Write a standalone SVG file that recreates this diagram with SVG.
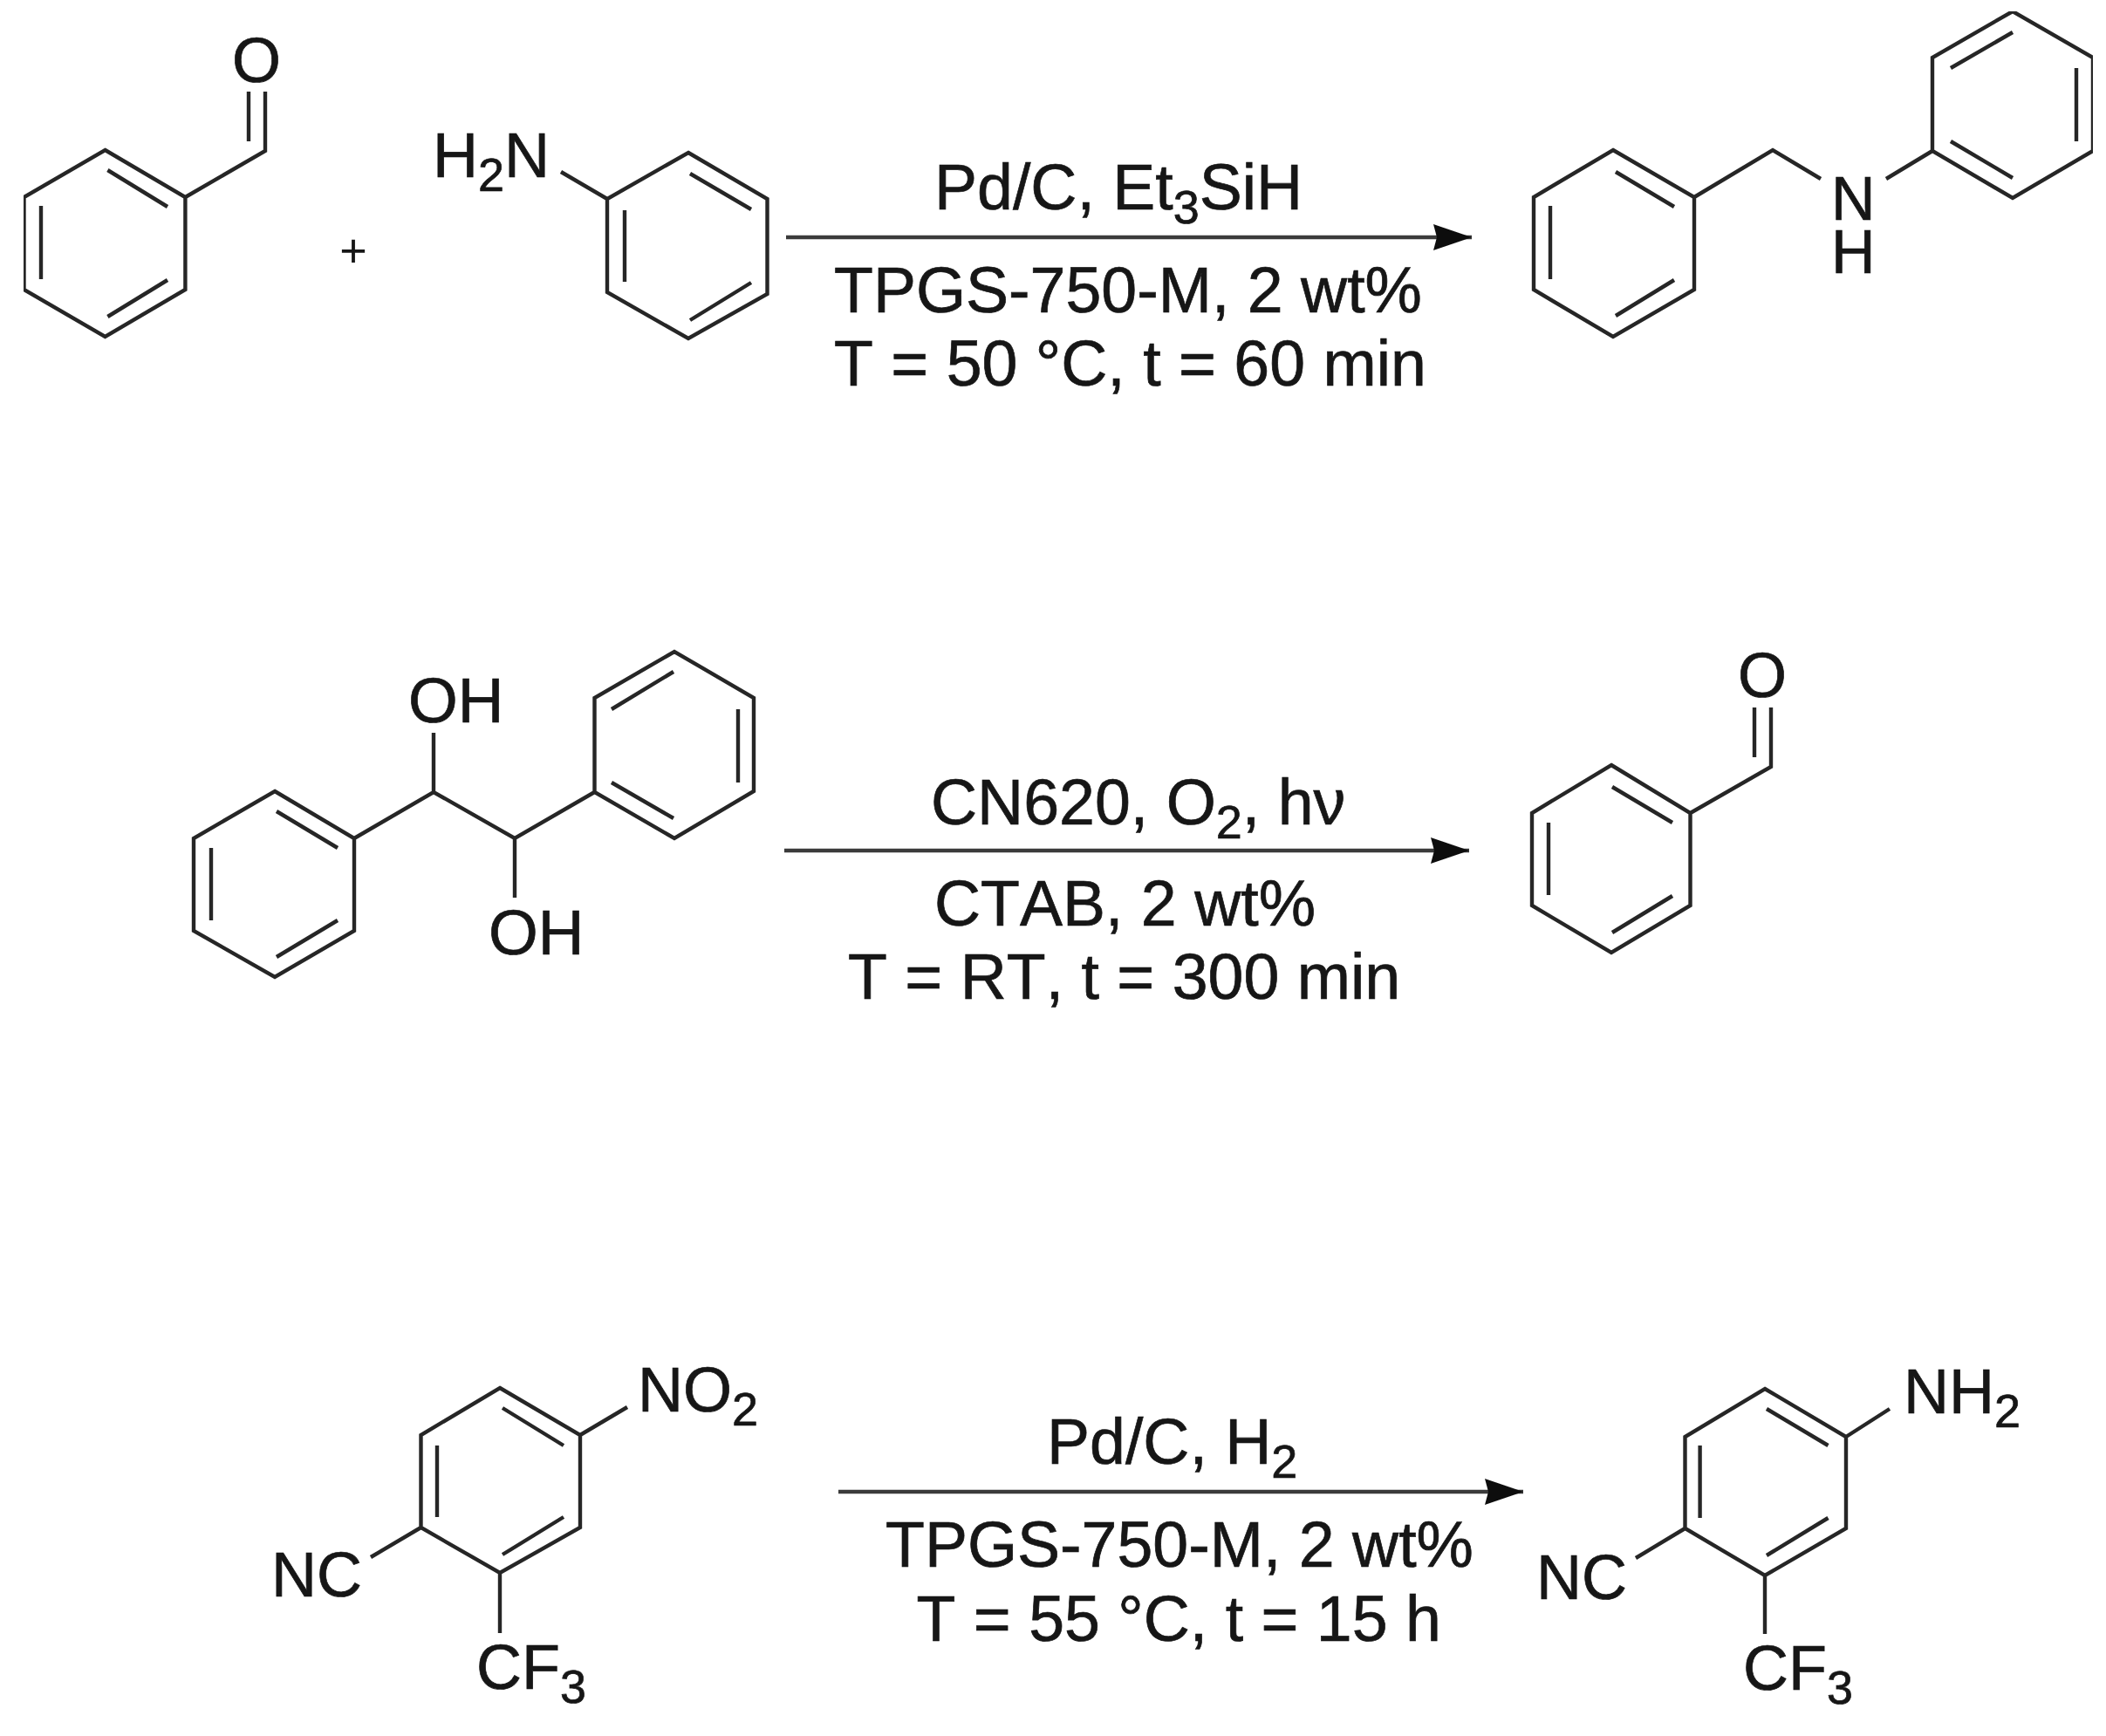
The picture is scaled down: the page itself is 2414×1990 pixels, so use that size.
<svg xmlns="http://www.w3.org/2000/svg" width="2414" height="1990" viewBox="0 0 2414 1990">
<style>
.b{fill:none;stroke:#262626;stroke-width:4.4;stroke-linejoin:miter;stroke-linecap:butt}
.t,.l{font-family:"Liberation Sans",Arial,sans-serif;font-kerning:none;fill:#151515;stroke:#151515;stroke-width:.7}
.t{font-size:73.5px}
.l{font-size:72px}
.s{font-size:54px}
.a{stroke:#3a3a3a;stroke-width:4.5;fill:none}
</style>
<defs>
<marker id="arr" markerUnits="userSpaceOnUse" markerWidth="46" markerHeight="32" refX="44" refY="15" orient="auto"><path d="M0 0L44 15L0 30L4 15Z" fill="#111"/></marker>
<filter id="soft" x="0" y="0" width="100%" height="100%"><feGaussianBlur stdDeviation="0.7"/></filter>
</defs>
<rect width="2414" height="1990" fill="#fff"/>
<g filter="url(#soft)">
<g id="connectors">
<line class="a" x1="901" y1="272" x2="1687" y2="272" marker-end="url(#arr)"/>
<line class="a" x1="899" y1="975" x2="1684" y2="975" marker-end="url(#arr)"/>
<line class="a" x1="961" y1="1710" x2="1746" y2="1710" marker-end="url(#arr)"/>
</g>
<g id="benzaldehyde">
<path class="b" d="M120.5 172L212.4 226V332L120.5 386L27.5 332V226ZM212.4 226L304 173V105M285 105V162M123.4 195L192 237M47 236V320M123.4 363L192 321"/>
<text class="l" x="266" y="94">O</text>
</g>
<g id="plus"><text class="t" x="405" y="305.5" text-anchor="middle" style="font-size:54px;stroke-width:0">+</text></g>
<g id="aniline">
<path class="b" d="M789 175L879.5 228V337L789 388L696 335V228ZM696 228L643 197M716 241V323M791 199L861 240M791 367L861 324"/>
<text class="l" x="496" y="203">H<tspan class="s" dy="16">2</tspan><tspan dy="-16">N</tspan></text>
</g>
<g id="conditions1">
<text class="t" x="1071" y="240">Pd/C, Et<tspan class="s" dy="16">3</tspan><tspan dy="-16">SiH</tspan></text>
<text class="t" x="956" y="358">TPGS-750-M, 2 wt%</text>
<text class="t" x="956" y="442">T = 50 °C, t = 60 min</text>
</g>
<g id="product1">
<path class="b" d="M1849 172L1942 226V332L1849 386L1758 332V226ZM1942 226L2032 172L2087 205M2162 205L2215 173M1852 197L1919 237M1777 236V320M1852 362L1919 321M2215 173V66L2307 13L2399 66V173L2307 227ZM2236 78L2307 37M2380 78V162M2236 162L2307 204"/>
<text class="l" x="2099" y="252" style="font-size:70px">N</text>
<text class="l" x="2099" y="313" style="font-size:70px">H</text>
</g>
<g id="hydrobenzoin">
<path class="b" d="M315 907L406 961V1067L315 1120L222 1067V961ZM317 930L387 972M242 972V1055M317 1097L387 1055M406 961L497 908L590 961L681.5 908M497 908V840M590 961V1029M681.5 908V800L773 747L864 800V907L773 961ZM701 813L772 770M846 813V897M701 897L772 938"/>
<text class="l" x="468" y="828" style="font-size:73px">OH</text>
<text class="l" x="560" y="1094" style="font-size:73px">OH</text>
</g>
<g id="conditions2">
<text class="t" x="1067" y="945">CN620, O<tspan class="s" dy="16">2</tspan><tspan dy="-16">, hν</tspan></text>
<text class="t" x="1071" y="1061">CTAB, 2 wt%</text>
<text class="t" x="972" y="1145">T = RT, t = 300 min</text>
</g>
<g id="product2">
<path class="b" d="M1847 877L1937.5 932V1038L1847 1092L1756 1038V932ZM1937.5 932L2030 879V811M2011 811V868M1848 902L1917 943M1775 943V1026M1848 1069L1917 1027"/>
<text class="l" x="1992" y="799">O</text>
</g>
<g id="nitro">
<path class="b" d="M573 1591L665 1645V1751L573 1803L482.5 1751V1645ZM576 1614L646 1657M501 1657V1739M576 1782L646 1739M665 1645L719 1613M482.5 1751L425 1785M573 1803V1872"/>
<text class="l" x="731" y="1618">NO<tspan class="s" dy="16">2</tspan></text>
<text class="l" x="311" y="1830">NC</text>
<text class="l" x="546" y="1936">CF<tspan class="s" dy="16">3</tspan></text>
</g>
<g id="conditions3">
<text class="t" x="1200" y="1678">Pd/C, H<tspan class="s" dy="16">2</tspan></text>
<text class="t" x="1015" y="1796">TPGS-750-M, 2 wt%</text>
<text class="t" x="1050.5" y="1881">T = 55 °C, t = 15 h</text>
</g>
<g id="amine">
<path class="b" d="M2023 1592L2116 1647V1752L2023 1806L1931.5 1752V1647ZM2025 1615L2095.5 1657M1948.6 1657V1740M2025 1783L2095.5 1740M2116 1647L2166 1615M1931.5 1752L1875 1786M2023 1806V1873"/>
<text class="l" x="2182" y="1620">NH<tspan class="s" dy="16">2</tspan></text>
<text class="l" x="1761" y="1833">NC</text>
<text class="l" x="1998" y="1937">CF<tspan class="s" dy="16">3</tspan></text>
</g>
</g>
</svg>
